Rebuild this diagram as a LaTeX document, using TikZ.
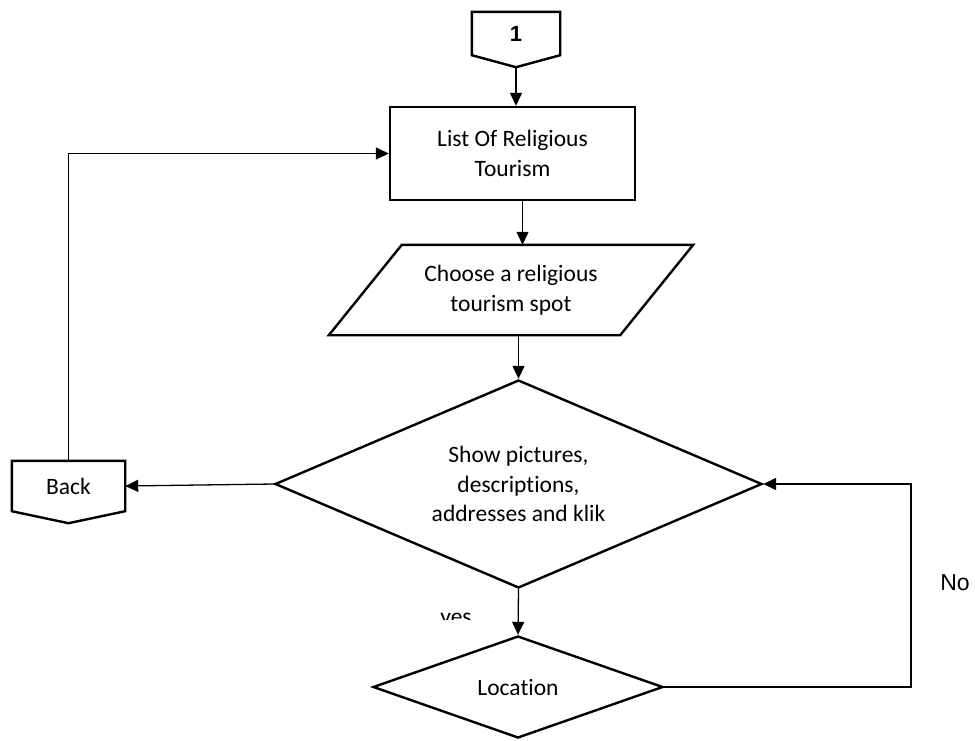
\documentclass[tikz,border=0pt]{standalone}
\usepackage{fontspec}
\setmainfont{Carlito}[Ligatures=NoCommon]
\newfontfamily\arialfont{Liberation Sans}
\usetikzlibrary{shapes.geometric,arrows.meta,calc}
\begin{document}
\begin{tikzpicture}[x=1pt,y=-1pt,
  every node/.style={font=\fontsize{23.5}{29.5}\selectfont, align=center, inner sep=0pt},
  shapeline/.style={draw=black, line width=2.4pt, line join=miter},
  conn/.style={draw=black, line width=1.3pt},
  arr/.style={conn, -{Triangle[length=13pt,width=12pt]}}]
\useasboundingbox (0,0) rectangle (975,740);
% off-page connector "1"
\node[minimum width=88pt, minimum height=43pt] (one) at (516,33.5) {\arialfont\bfseries\fontsize{22}{24}\selectfont 1};
\coordinate (onetip) at ($(one.south)+(0,12)$);
\draw[shapeline] (one.north west) -- (one.north east) -- (one.south east) -- (onetip) -- (one.south west) -- cycle;
% list box
\node[shapeline, minimum width=245pt, minimum height=93pt] (list) at (512.5,153.5) {List Of Religious\\Tourism};
% parallelogram
\node[minimum width=291pt, minimum height=90pt] (para) at (511,290) {Choose a religious\\tourism spot};
\draw[shapeline] ($(para.north west)+(36.5,0)$) -- ($(para.north east)+(36.5,0)$)
  -- ($(para.south east)+(-36.5,0)$) -- ($(para.south west)+(-36.5,0)$) -- cycle;
% big decision
\node[shapeline, diamond, aspect=2.34, minimum width=487pt, minimum height=208pt] (dia) at (518.5,484) {Show pictures,\\descriptions,\\addresses and klik};
% location decision
\node[shapeline, diamond, aspect=2.84, minimum width=290pt, minimum height=102pt] (loc) at (518,687) {Location};
% back connector
\node[minimum width=113pt, minimum height=50pt] (back) at (68.5,486) {Back};
\coordinate (backtip) at ($(back.south)+(0,12)$);
\draw[shapeline] (back.north west) -- (back.north east) -- (back.south east) -- (backtip) -- (back.south west) -- cycle;
% connectors
\coordinate (lsout) at ($(list.south)+(10,0)$);
\draw[arr] (onetip) -- (onetip |- list.north);
\draw[arr] (lsout) -- (lsout |- para.north);
\draw[arr] (dia.north |- para.south) -- (dia.north);
\draw[arr] (dia.west) -- (back.east);
\draw[arr] (back.north) |- (list.west);
\draw[arr] (dia.south) -- (loc.north);
\coordinate (rturn) at (911,687);
\draw[arr] (loc.east) -- (rturn) |- (dia.east);
% labels
\node[font=\arialfont\fontsize{23}{26}\selectfont, anchor=base] (no) at (955,590) {No};
\begin{scope}
\clip (400,560) rectangle (500,619);
\node[anchor=base] (yes) at (456,624) {yes};
\end{scope}
\end{tikzpicture}
\end{document}
